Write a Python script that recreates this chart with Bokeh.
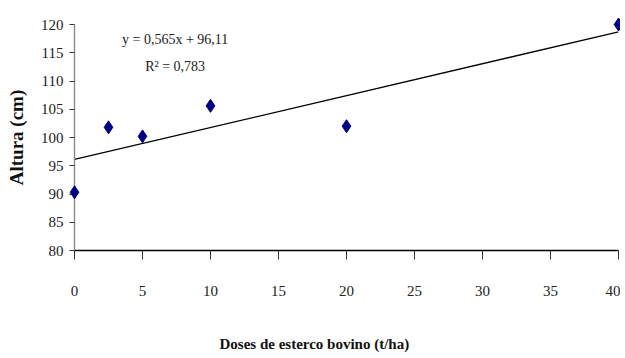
from bokeh.plotting import figure
from bokeh.models import Range1d, FixedTicker, Label, Title
from bokeh.embed import file_html
from bokeh.resources import INLINE

# Data
doses = [0, 2.5, 5, 10, 20, 40]
altura = [90.3, 101.8, 100.2, 105.6, 102.0, 120.0]
slope = 0.565
intercept = 96.11
trend_x = [0, 40]
trend_y = [intercept + slope * x for x in trend_x]
x_ticks = [0, 5, 10, 15, 20, 25, 30, 35, 40]
y_ticks = [80, 85, 90, 95, 100, 105, 110, 115, 120]
eq_text = "y = 0,565x + 96,11"
r2_text = "R\u00b2 = 0,783"
x_label = "Doses de esterco bovino (t/ha)"
y_label = "Altura (cm)"

FONT = "Liberation Serif"

p = figure(frame_width=544, frame_height=226, output_backend="svg",
           toolbar_location=None,
           x_range=Range1d(0, 40), y_range=Range1d(80, 120),
           min_border_left=74, min_border_right=2, min_border_top=24,
           min_border_bottom=100)
p.background_fill_color = "white"
p.border_fill_color = "white"
p.outline_line_color = None
p.grid.grid_line_color = None

p.xaxis.ticker = FixedTicker(ticks=x_ticks)
p.yaxis.ticker = FixedTicker(ticks=y_ticks)
p.xaxis.minor_tick_line_color = None
p.yaxis.minor_tick_line_color = None

p.xaxis.axis_line_color = "black"
p.xaxis.axis_line_width = 1.6
p.xaxis.major_tick_line_color = "#333333"
p.xaxis.major_tick_in = 0
p.xaxis.major_tick_out = 9
p.xaxis.major_label_standoff = 26
p.xaxis.major_label_text_font = FONT
p.xaxis.major_label_text_font_size = "15px"
p.xaxis.major_label_text_color = "#222222"

p.yaxis.axis_line_color = "#8a8a8a"
p.yaxis.axis_line_width = 1.4
p.yaxis.major_tick_line_color = "#333333"
p.yaxis.major_tick_in = 0
p.yaxis.major_tick_out = 5
p.yaxis.major_label_standoff = 6
p.yaxis.major_label_text_font = FONT
p.yaxis.major_label_text_font_size = "15px"
p.yaxis.major_label_text_color = "#222222"
p.yaxis.axis_label = y_label
p.yaxis.axis_label_text_font = FONT
p.yaxis.axis_label_text_font_style = "bold"
p.yaxis.axis_label_text_font_size = "19px"
p.yaxis.axis_label_text_color = "#111111"
p.yaxis.axis_label_standoff = 11

p.line(trend_x, trend_y, line_color="black", line_width=1.3)
p.scatter(doses, altura, marker="diamond", size=13, fill_color="#000080",
          line_color="#000080", level="overlay")

p.add_layout(Label(x=7.4, y=117.3, text=eq_text, text_align="center",
                   text_baseline="middle", text_font=FONT,
                   text_font_size="14px", text_color="#222222"))
p.add_layout(Label(x=7.4, y=112.6, text=r2_text, text_align="center",
                   text_baseline="middle", text_font=FONT,
                   text_font_size="14px", text_color="#222222"))
p.add_layout(Title(text=x_label, align="left", offset=145, standoff=70,
                   text_font=FONT, text_font_style="bold",
                   text_font_size="15px", text_color="#111111"), "below")

open("out.html", "w").write(file_html(p, INLINE))
